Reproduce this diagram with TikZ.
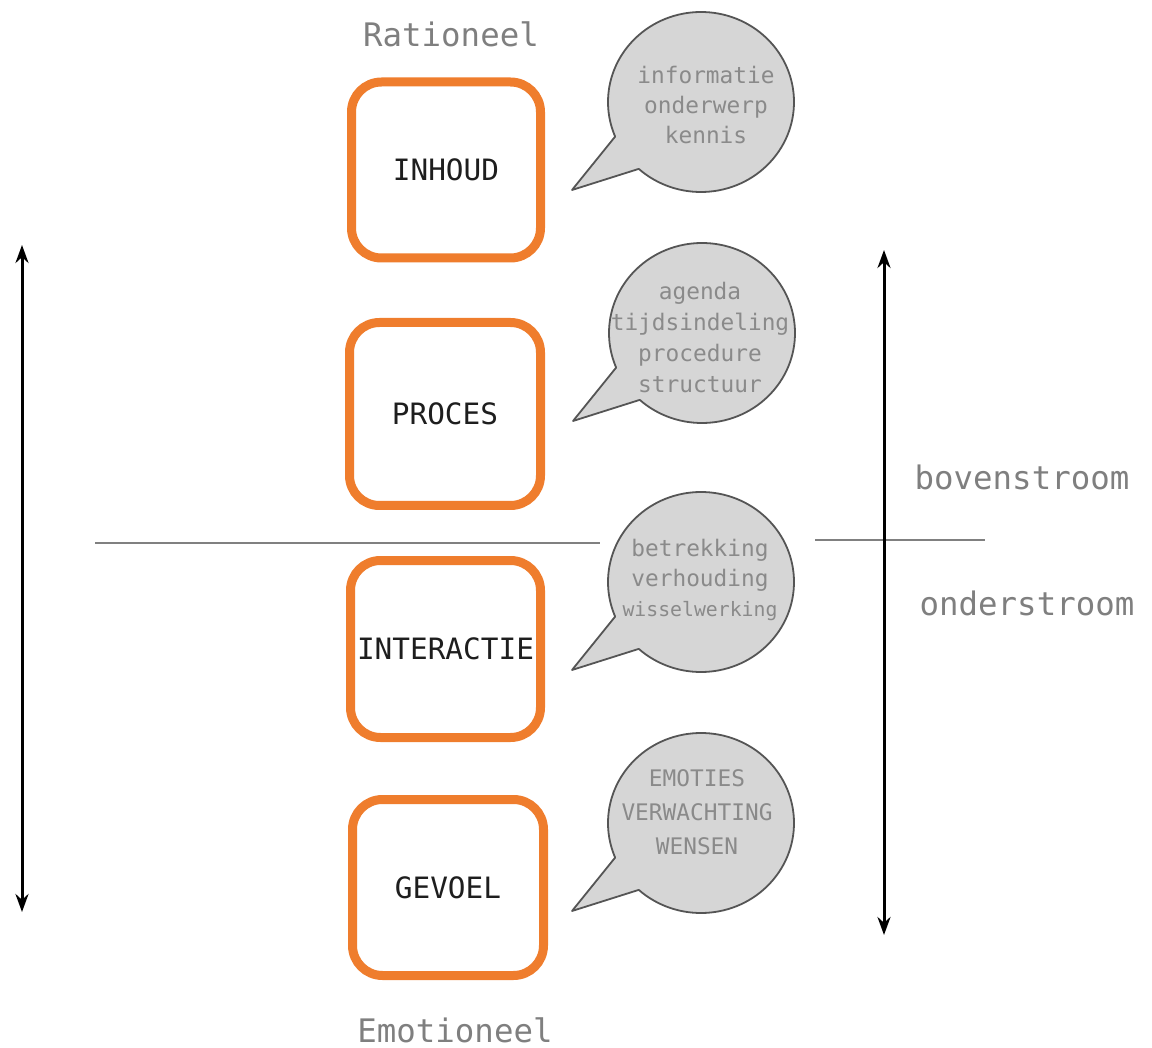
\documentclass[tikz,border=0pt]{standalone}
\usepackage{fontspec}
\setmonofont{DejaVu Sans Mono}
\usetikzlibrary{arrows.meta,calc}
\definecolor{boxorange}{HTML}{EF7D2D}
\definecolor{bubblefill}{HTML}{D6D6D6}
\definecolor{bubbleline}{HTML}{555555}
\definecolor{softgray}{HTML}{8A8A8A}
\definecolor{labelgray}{HTML}{7F7F7F}
\definecolor{boxtext}{HTML}{1E1E1E}
\newcommand\spbubble[2]{%
  \filldraw[bubble] ($(#1,#2)+(228:93pt and 90pt)$)
    arc[start angle=228,end angle=562.6,x radius=93pt,y radius=90pt]
    -- ($(#1,#2)+(-129,-88)$) -- cycle;}
\begin{document}
\begin{tikzpicture}[x=1pt,y=1pt,
  stagebox/.style={draw=boxorange,line width=9pt,rounded corners=30pt,fill=white,
    font=\ttfamily\fontsize{29.4}{32}\selectfont,text=boxtext},
  bubble/.style={fill=bubblefill,draw=bubbleline,line width=1.8pt,line join=round},
  bubbletext/.style={font=\ttfamily\fontsize{22.8}{30}\selectfont,text=softgray,align=center,inner sep=0pt},
  sidelabel/.style={font=\ttfamily\fontsize{32.4}{36}\selectfont,text=labelgray,inner sep=0pt},
  axis/.style={line width=3pt,{Stealth[length=18pt,width=13pt]}-{Stealth[length=18pt,width=13pt]}},
  divider/.style={draw=gray,line width=1.5pt}]
\useasboundingbox (0,0) rectangle (1152,-1048);

% boxes
\node[stagebox,minimum width=189pt,minimum height=176pt] (inh) at (446,-170) {INHOUD};
\node[stagebox,minimum width=191pt,minimum height=183pt] (pro) at (445,-414) {PROCES};
\node[stagebox,minimum width=190pt,minimum height=177pt] (int) at (445.5,-649) {INTERACTIE};
\node[stagebox,minimum width=191pt,minimum height=176pt] (gev) at (448,-887.5) {GEVOEL};

% speech bubbles
\spbubble{701}{-102}
\spbubble{702}{-333}
\spbubble{701}{-582}
\spbubble{701}{-823}

\node[bubbletext] (b1) at (706,-105) {informatie\\onderwerp\\kennis};
\node[bubbletext,font=\ttfamily\fontsize{22.8}{31}\selectfont] (b2) at (700,-338) {agenda\\tijdsindeling\\procedure\\structuur};
\node[bubbletext] (b3) at (700,-580) {betrekking\\verhouding\\{\fontsize{19.8}{30}\selectfont wisselwerking}};
\node[bubbletext,font=\ttfamily\fontsize{22.8}{34}\selectfont] (b4) at (697,-812) {EMOTIES\\VERWACHTING\\WENSEN};

% labels
\node[sidelabel] (rat) at (451,-34) {Rationeel};
\node[sidelabel] (emo) at (455,-1030) {Emotioneel};
\node[sidelabel] (bov) at (1022,-477) {bovenstroom};
\node[sidelabel] (ond) at (1027,-603) {onderstroom};

% divider lines
\coordinate (d1a) at (95,-543);
\coordinate (d1b) at (600,-543);
\coordinate (d2a) at (815,-540);
\coordinate (d2b) at (985,-540);
\draw[divider] (d1a) -- (d1b);
\draw[divider] (d2a) -- (d2b);

% axes
\coordinate (la) at (22,-245);
\coordinate (lb) at (22,-912);
\coordinate (ra) at (884,-250);
\coordinate (rb) at (884,-935);
\draw[axis] (la) -- (lb);
\draw[axis] (ra) -- (rb);
\end{tikzpicture}
\end{document}
